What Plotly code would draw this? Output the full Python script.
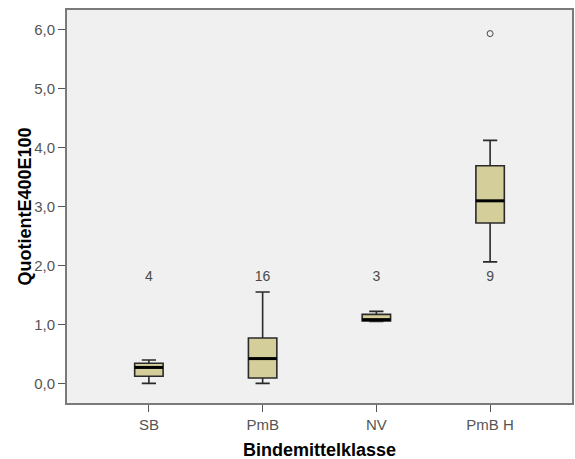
import plotly.graph_objects as go

categories = ["SB", "PmB", "NV", "PmB H"]
lower_whisker = [0.0, 0.0, 1.05, 2.06]
q1 = [0.12, 0.09, 1.06, 2.72]
median = [0.27, 0.42, 1.08, 3.095]
q3 = [0.34, 0.77, 1.17, 3.69]
upper_whisker = [0.395, 1.55, 1.22, 4.12]
counts = [4, 16, 3, 9]
outlier_cat = ["PmB H"]
outlier_val = [5.93]
y_ticks = [0, 1, 2, 3, 4, 5, 6]

xpos = list(range(len(categories)))
BOXW = 0.25
PLOT_H = 459 - 10 - 56
PLOT_W = 575 - 67 - 3

fig = go.Figure()
fig.add_trace(go.Box(
    x=xpos, q1=q1, median=median, q3=q3,
    lowerfence=lower_whisker, upperfence=upper_whisker,
    fillcolor="#d3ce9a", line=dict(color="#2a2a2a", width=1.6),
    width=BOXW, whiskerwidth=0.5, boxpoints=False, showlegend=False,
    hoverinfo="skip",
))
for i, m in enumerate(median):
    fig.add_trace(go.Scatter(
        x=[xpos[i] - BOXW / 2, xpos[i] + BOXW / 2], y=[m, m], mode="lines",
        line=dict(color="black", width=3), showlegend=False, hoverinfo="skip",
    ))
fig.add_trace(go.Scatter(
    x=[categories.index(c) for c in outlier_cat], y=outlier_val, mode="markers",
    marker=dict(symbol="circle-open", size=6, color="#444", line=dict(width=1)),
    showlegend=False, hoverinfo="skip",
))
fig.add_trace(go.Scatter(
    x=xpos, y=[1.8] * len(xpos), mode="text", text=[str(c) for c in counts],
    textfont=dict(family="Liberation Sans, Arial", size=14, color="#4a4a4a"),
    showlegend=False, hoverinfo="skip",
))

fig.update_layout(
    width=575, height=459,
    margin=dict(l=67, r=3, t=10, b=56, autoexpand=False),
    paper_bgcolor="white", plot_bgcolor="#f0f0f0",
    separators=",.",
    font=dict(family="Liberation Sans, Arial", size=15, color="#555"),
    xaxis=dict(
        range=[-0.72, 3.72], tickvals=xpos, ticktext=categories,
        showgrid=False, zeroline=False, showline=True, mirror=True,
        linecolor="#7a7a7a", linewidth=2, ticks="outside", ticklen=7,
        tickcolor="#555", tickfont=dict(size=15, color="#555"),
        automargin=False,
    ),
    yaxis=dict(
        range=[-0.333, 6.33], tickvals=y_ticks, tickformat=".1f",
        showgrid=False, zeroline=False, showline=True, mirror=True,
        linecolor="#7a7a7a", linewidth=2, ticks="outside", ticklen=7,
        tickcolor="#555", tickfont=dict(size=15, color="#555"),
        automargin=False,
    ),
    annotations=[
        dict(text="<b>Bindemittelklasse</b>", xref="paper", yref="paper",
             x=0.5, y=-(450 - 403) / PLOT_H, xanchor="center", yanchor="middle",
             showarrow=False, font=dict(size=18, color="black")),
        dict(text="<b>QuotientE400E100</b>", xref="paper", yref="paper",
             x=(24 - 67) / PLOT_W, y=0.5, xanchor="center", yanchor="middle", textangle=-90,
             showarrow=False, font=dict(size=18, color="black")),
    ],
)
fig.write_html("out.html", config={"displayModeBar": False},
               post_script="document.body.style.margin='0';document.body.style.overflow='hidden';")
